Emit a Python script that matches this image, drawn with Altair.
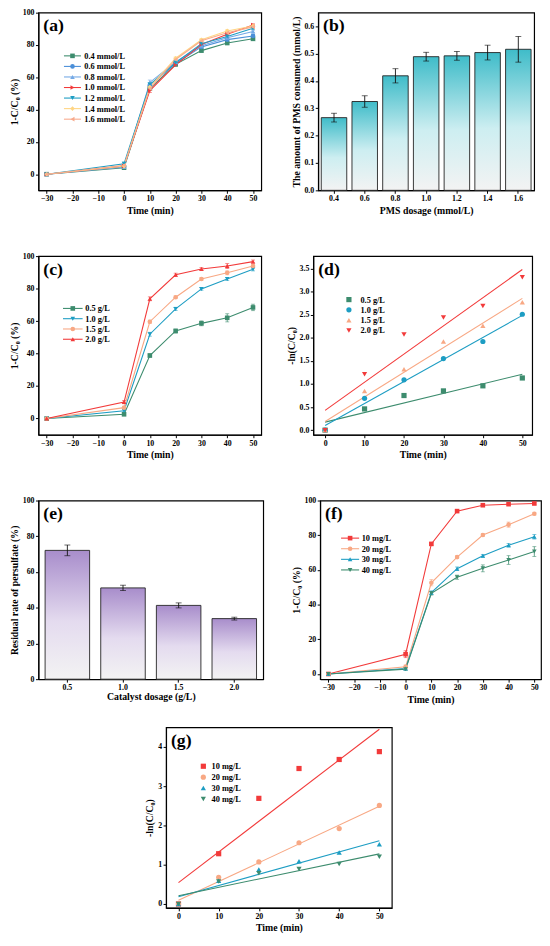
import altair as alt
import pandas as pd

FONT = "Liberation Serif"

# ---------------- data ----------------
a_time = [-30, 0, 10, 20, 30, 40, 50]
a_names = ["0.4 mmol/L", "0.6 mmol/L", "0.8 mmol/L", "1.0 mmol/L", "1.2 mmol/L", "1.4 mmol/L", "1.6 mmol/L"]
a_04 = [0, 4.0, 53.0, 68.0, 76.5, 81.2, 83.8]
a_06 = [0, 5.0, 55.0, 68.5, 78.8, 83.3, 85.6]
a_08 = [0, 4.5, 56.8, 69.5, 79.5, 84.5, 88.3]
a_10 = [0, 5.0, 51.8, 67.7, 80.3, 86.6, 92.3]
a_12 = [0, 6.5, 55.5, 69.0, 80.8, 85.3, 90.3]
a_14 = [0, 5.0, 54.0, 71.8, 83.2, 88.7, 91.8]
a_16 = [0, 5.5, 53.0, 71.0, 82.6, 87.5, 91.2]
a_04_err = [0, 1.0, 1.0, 0.8, 0.8, 0.8, 0.8]
a_06_err = [0, 1.0, 1.0, 0.8, 0.8, 0.8, 0.8]
a_08_err = [0, 1.2, 1.5, 0.8, 0.8, 0.8, 0.8]
a_10_err = [0, 1.0, 1.2, 0.8, 0.8, 0.8, 0.8]
a_12_err = [0, 1.0, 1.2, 0.8, 0.8, 0.8, 0.8]
a_14_err = [0, 1.0, 1.0, 0.8, 0.8, 0.8, 0.8]
a_16_err = [0, 1.0, 1.0, 0.8, 0.8, 0.8, 0.8]
a_colors = ["#3d8c6e", "#4b8fd8", "#74a9e6", "#f23a3a", "#1d9dc3", "#ffd583", "#f8aa8c"]
a_shapes = ["square", "circle", "triangle-up", "triangle-right", "triangle-down", "diamond", "triangle-left"]

b_dose = ["0.4", "0.6", "0.8", "1.0", "1.2", "1.4", "1.6"]
b_vals = [0.266, 0.325, 0.419, 0.489, 0.492, 0.504, 0.516]
b_err = [0.016, 0.021, 0.026, 0.016, 0.016, 0.027, 0.047]

c_time = [-30, 0, 10, 20, 30, 40, 50]
c_names = ["0.5 g/L", "1.0 g/L", "1.5 g/L", "2.0 g/L"]
c_05 = [0, 2.6, 38.8, 53.9, 58.6, 62.0, 68.4]
c_10 = [0, 4.8, 51.9, 67.5, 79.8, 85.9, 91.9]
c_15 = [0, 6.7, 59.6, 74.7, 85.9, 89.7, 93.9]
c_20 = [0, 10.1, 73.7, 88.5, 92.1, 93.9, 96.6]
c_05_err = [0.3, 0.8, 1.0, 1.2, 1.5, 2.5, 2.0]
c_10_err = [0, 0.8, 1.2, 1.0, 0.8, 1.0, 1.0]
c_15_err = [0, 0.5, 1.0, 0.8, 0.8, 1.2, 0.8]
c_20_err = [0, 1.0, 1.2, 1.0, 0.8, 1.5, 1.0]
c_colors = ["#3d8c6e", "#1d9dc3", "#f8a884", "#f23a3a"]
c_shapes = ["square", "triangle-down", "circle", "triangle-up"]

d_time = [0, 10, 20, 30, 40, 50]
d_05 = [0, 0.46, 0.75, 0.85, 0.96, 1.13]
d_10 = [0, 0.69, 1.09, 1.55, 1.92, 2.51]
d_15 = [0, 0.85, 1.32, 1.92, 2.26, 2.77]
d_20 = [0, 1.21, 2.07, 2.44, 2.69, 3.31]
d_colors = ["#3d8c6e", "#1d9dc3", "#f8a884", "#f23a3a"]
d_shapes = ["square", "circle", "triangle-up", "triangle-down"]

e_dose = ["0.5", "1.0", "1.5", "2.0"]
e_vals = [72.1, 51.1, 41.3, 33.9]
e_err = [3.0, 1.5, 1.4, 0.8]

f_time = [-30, 0, 10, 20, 30, 40, 50]
f_names = ["10 mg/L", "20 mg/L", "30 mg/L", "40 mg/L"]
f_10 = [0, 11.4, 75.0, 93.9, 97.3, 97.9, 98.3]
f_20 = [0, 4.2, 52.6, 67.4, 80.1, 86.1, 92.4]
f_30 = [0, 3.2, 46.9, 60.7, 68.1, 74.2, 79.1]
f_40 = [0, 2.8, 46.5, 55.8, 60.9, 65.7, 70.6]
f_10_err = [0, 2.0, 0.8, 0.6, 0.5, 0.5, 0.5]
f_20_err = [0, 1.0, 1.8, 0.8, 0.8, 1.5, 0.8]
f_30_err = [0, 0.8, 1.0, 1.0, 0.8, 1.0, 1.3]
f_40_err = [0, 0.8, 1.0, 1.2, 2.0, 2.5, 2.8]
f_colors = ["#f23a3a", "#f8a884", "#1d9dc3", "#3d8c6e"]
f_shapes = ["square", "circle", "triangle-up", "triangle-down"]

g_time = [0, 10, 20, 30, 40, 50]
g_10 = [0, 1.28, 2.69, 3.45, 3.68, 3.88]
g_20 = [0, 0.68, 1.07, 1.56, 1.92, 2.51]
g_30 = [0, 0.59, 0.88, 1.09, 1.31, 1.52]
g_40 = [0, 0.57, 0.78, 0.89, 1.02, 1.20]

# ---------------- helpers ----------------
IND = dict(color="independent", fill="independent", stroke="independent", shape="independent")


def long_df(times, names, series, errs=None):
    rows = []
    for i, (n, vals) in enumerate(zip(names, series)):
        ee = errs[i] if errs else [0] * len(vals)
        for t, v, e in zip(times, vals, ee):
            rows.append({"t": t, "v": v, "e": e, "s": n, "k": i})
    return pd.DataFrame(rows)


def letter_layer(txt, x=5, y=19):
    return alt.Chart(pd.DataFrame({"lab": [txt]})).mark_text(
        font=FONT, fontWeight="bold", fontSize=18, align="left",
        baseline="alphabetic", color="black"
    ).encode(text="lab:N", x=alt.value(x), y=alt.value(y))


def legend_layer(names, colors, shapes, y0, y1, xm, xl, line=None, msize=22):
    ldf = pd.DataFrame({"s": names, "k": list(range(len(names)))})
    base = alt.Chart(ldf)
    LY = alt.Y("s:N", scale=alt.Scale(type="point", domain=names, range=[y0, y1], padding=0),
               axis=None)
    cs = alt.Scale(domain=names, range=colors)
    layers = []
    if line:
        layers.append(base.mark_rule(strokeWidth=1.1).encode(
            x=alt.value(line[0]), x2=alt.value(line[1]), y=LY,
            color=alt.Color("s:N", scale=cs, legend=None)))
    layers.append(base.mark_point(filled=True, opacity=1, size=msize).encode(
        x=alt.value(xm), y=LY,
        fill=alt.Fill("s:N", scale=cs, legend=None),
        shape=alt.Shape("s:N", scale=alt.Scale(domain=names, range=shapes), legend=None)))
    layers.append(base.mark_text(align="left", baseline="middle", font=FONT,
                                 fontWeight="bold", fontSize=8.5, color="black").encode(
        x=alt.value(xl), y=LY, text="s:N"))
    return alt.layer(*layers)


def make_xy(xdom, ydom, xvals, yvals, xtitle, ytitle, yfmt=None):
    xs = alt.Scale(domain=xdom, nice=False, zero=False)
    ys = alt.Scale(domain=ydom, nice=False, zero=False)
    xa = alt.Axis(title=xtitle, values=xvals, titlePadding=3)
    if yfmt:
        ya = alt.Axis(title=ytitle, values=yvals, titlePadding=3, format=yfmt)
    else:
        ya = alt.Axis(title=ytitle, values=yvals, titlePadding=3)

    def X(f):
        return alt.X(f + ":Q", scale=xs, axis=xa)

    def Y(f):
        return alt.Y(f + ":Q", scale=ys, axis=ya)
    return X, Y


def line_panel(df, names, colors, shapes, xdom, ydom, xvals, yvals, ytitle,
               letter, leg, w, h, msize=22):
    X, Y = make_xy(xdom, ydom, xvals, yvals, "Time (min)", ytitle)
    base = alt.Chart(df)
    cs = alt.Scale(domain=names, range=colors)
    lines = base.mark_line(strokeWidth=1.1).encode(
        x=X("t"), y=Y("v"), color=alt.Color("s:N", scale=cs, legend=None))
    eb = base.transform_filter("datum.e > 0").transform_calculate(
        lo="datum.v - datum.e", hi="datum.v + datum.e")
    rule = eb.mark_rule(strokeWidth=0.8).encode(
        x=X("t"), y=Y("lo"), y2="hi:Q",
        color=alt.Color("s:N", scale=cs, legend=None))
    cap_lo = eb.mark_tick(orient="horizontal", size=4, thickness=0.8).encode(
        x=X("t"), y=Y("lo"), color=alt.Color("s:N", scale=cs, legend=None))
    cap_hi = eb.mark_tick(orient="horizontal", size=4, thickness=0.8).encode(
        x=X("t"), y=Y("hi"), color=alt.Color("s:N", scale=cs, legend=None))
    pts = []
    for i in range(len(names)):
        pts.append(base.transform_filter(alt.datum.k == i).mark_point(
            filled=True, shape=shapes[i], size=msize, opacity=1, color=colors[i]
        ).encode(x=X("t"), y=Y("v")))
    data_layer = alt.layer(lines, rule, cap_lo, cap_hi, *pts, letter_layer(letter))
    lg = legend_layer(names, colors, shapes, *leg, msize=msize)
    return alt.layer(data_layer, lg).resolve_scale(y="independent").properties(
        width=w, height=h)


def fit_panel(df, names, colors, shapes, xdom, ydom, xvals, yvals, ytitle, yfmt,
              letter, leg, w, h, msize=28):
    X, Y = make_xy(xdom, ydom, xvals, yvals, "Time (min)", ytitle, yfmt)
    base = alt.Chart(df)
    cs = alt.Scale(domain=names, range=colors)
    fits = base.transform_regression("t", "v", groupby=["s"], extent=[0, 50]).mark_line(
        strokeWidth=1.1).encode(x=X("t"), y=Y("v"),
                                color=alt.Color("s:N", scale=cs, legend=None))
    pts = base.mark_point(filled=True, opacity=1, size=msize).encode(
        x=X("t"), y=Y("v"),
        fill=alt.Fill("s:N", scale=cs, legend=None),
        shape=alt.Shape("s:N", scale=alt.Scale(domain=names, range=shapes), legend=None),
        order=alt.Order("k:Q"))
    data_layer = alt.layer(fits, pts, letter_layer(letter))
    lg = legend_layer(names, colors, shapes, *leg, msize=msize)
    return alt.layer(data_layer, lg).resolve_scale(y="independent").properties(
        width=w, height=h)


def bar_panel(cats, vals, errs, top, mid, ydom, yvals, yfmt, xtitle, ytitle,
              letter, w, h, pin, pout, xtpad):
    df = pd.DataFrame({"d": cats, "v": vals, "e": errs})
    base = alt.Chart(df)
    xs = alt.Scale(paddingInner=pin, paddingOuter=pout)
    xa = alt.Axis(title=xtitle, labelAngle=0, titlePadding=xtpad)
    ys = alt.Scale(domain=ydom, nice=False, zero=False)
    if yfmt:
        ya = alt.Axis(title=ytitle, values=yvals, format=yfmt, titlePadding=3)
    else:
        ya = alt.Axis(title=ytitle, values=yvals, titlePadding=3)
    X = alt.X("d:N", sort=cats, scale=xs, axis=xa)
    grad = alt.Gradient(
        gradient="linear",
        stops=[alt.GradientStop(color=top, offset=0),
               alt.GradientStop(color=mid, offset=0.55),
               alt.GradientStop(color="#f3f3f3", offset=1)],
        x1=0, x2=0, y1=0, y2=1)
    bars = base.mark_bar(fill=grad, stroke="#222222", strokeWidth=0.9).encode(
        x=X, y=alt.Y("v:Q", scale=ys, axis=ya))
    eb = base.transform_calculate(lo="datum.v - datum.e", hi="datum.v + datum.e")
    rule = eb.mark_rule(color="#111111", strokeWidth=0.9).encode(
        x=X, y=alt.Y("lo:Q", scale=ys, axis=ya), y2="hi:Q")
    cap_lo = eb.mark_tick(orient="horizontal", size=6, thickness=0.9, color="#111111").encode(
        x=X, y=alt.Y("lo:Q", scale=ys, axis=ya))
    cap_hi = eb.mark_tick(orient="horizontal", size=6, thickness=0.9, color="#111111").encode(
        x=X, y=alt.Y("hi:Q", scale=ys, axis=ya))
    return alt.layer(bars, rule, cap_lo, cap_hi, letter_layer(letter)).properties(
        width=w, height=h)


T_VALS = [-30, -20, -10, 0, 10, 20, 30, 40, 50]
P_VALS = [0, 20, 40, 60, 80, 100]
K_VALS = [0, 10, 20, 30, 40, 50]
REM = "1-C/C\u2080 (%)"
LN = "-ln(C/C\u2080)"

pa = line_panel(
    long_df(a_time, a_names, [a_04, a_06, a_08, a_10, a_12, a_14, a_16],
            [a_04_err, a_06_err, a_08_err, a_10_err, a_12_err, a_14_err, a_16_err]),
    a_names, a_colors, a_shapes, [-33.2, 53.2], [-10, 100], T_VALS, P_VALS, REM,
    "(a)", (44, 108.5, 34.7, 46.7, (26, 43.3)), 227, 181)

pb = bar_panel(b_dose, b_vals, b_err, "#3fbcc9", "#cdeef1", [0, 0.65],
               [0, 0.1, 0.2, 0.3, 0.4, 0.5, 0.6], ".1f", "PMS dosage (mmol/L)",
               "The amount of PMS consumed (mmol/L)", "(b)", 220, 181, 0.17, 0.1, 3)

pc = line_panel(
    long_df(c_time, c_names, [c_05, c_10, c_15, c_20], [c_05_err, c_10_err, c_15_err, c_20_err]),
    c_names, c_colors, c_shapes, [-33.2, 53.2], [-10, 100], T_VALS, P_VALS, REM,
    "(c)", (53.3, 84.7, 35, 47.7, (25, 45)), 227, 182)

pd_ = fit_panel(long_df(d_time, c_names, [d_05, d_10, d_15, d_20]),
                c_names, d_colors, d_shapes, [-3, 52.5], [-0.1, 3.77], K_VALS,
                [0, 0.5, 1.0, 1.5, 2.0, 2.5, 3.0, 3.5], LN, ".1f", "(d)",
                (44.3, 75.7, 36.3, 48), 223, 182)

pe = bar_panel(e_dose, e_vals, e_err, "#a88dcb", "#e4dbef", [0, 100], P_VALS, None,
               "Catalyst dosage (g/L)", "Residual rate of persulfate (%)", "(e)",
               229, 182, 0.2, 0.12, 0)

pf = line_panel(
    long_df(f_time, f_names, [f_10, f_20, f_30, f_40], [f_10_err, f_20_err, f_30_err, f_40_err]),
    f_names, f_colors, f_shapes, [-33.2, 52.6], [-3, 100], T_VALS, P_VALS, REM,
    "(f)", (38.3, 70.7, 30.5, 42.3, (21.3, 39.7)), 225, 182)

pg = fit_panel(long_df(g_time, f_names, [g_10, g_20, g_30, g_40]),
               f_names, f_colors, f_shapes, [-3.1, 53.1], [-0.1, 4.5], K_VALS,
               [0, 1, 2, 3, 4], LN, None, "(g)", (39.7, 73, 38, 46.3), 230, 184)

spacer = alt.Chart(pd.DataFrame({"z": [0]})).mark_point(opacity=0).properties(
    width=106, height=10, view=alt.ViewBackground(stroke="transparent"))

row1 = alt.hconcat(pa, pb, spacing=28).resolve_scale(**IND)
row2 = alt.hconcat(pc, pd_, spacing=23).resolve_scale(**IND)
row3 = alt.hconcat(pe, pf, spacing=26).resolve_scale(**IND)
row4 = alt.hconcat(spacer, pg, spacing=0).resolve_scale(**IND)

upper = alt.vconcat(row1, row2, row3, spacing=35).resolve_scale(**IND)

chart = alt.vconcat(upper, row4, spacing=21).resolve_scale(**IND).properties(
    padding={"top": -9, "left": 0, "right": 0, "bottom": 0}
).configure_view(
    stroke="black", strokeWidth=1.2
).configure_axis(
    labelFont=FONT, labelFontWeight="bold", labelFontSize=8, labelColor="black",
    titleFont=FONT, titleFontWeight="bold", titleFontSize=10, titleColor="black",
    domainColor="black", domainWidth=1.1, tickColor="black", tickWidth=1,
    tickSize=3, labelPadding=1.5, grid=False
)

chart.save("out.html", embed_options={"renderer": "svg", "actions": False})
